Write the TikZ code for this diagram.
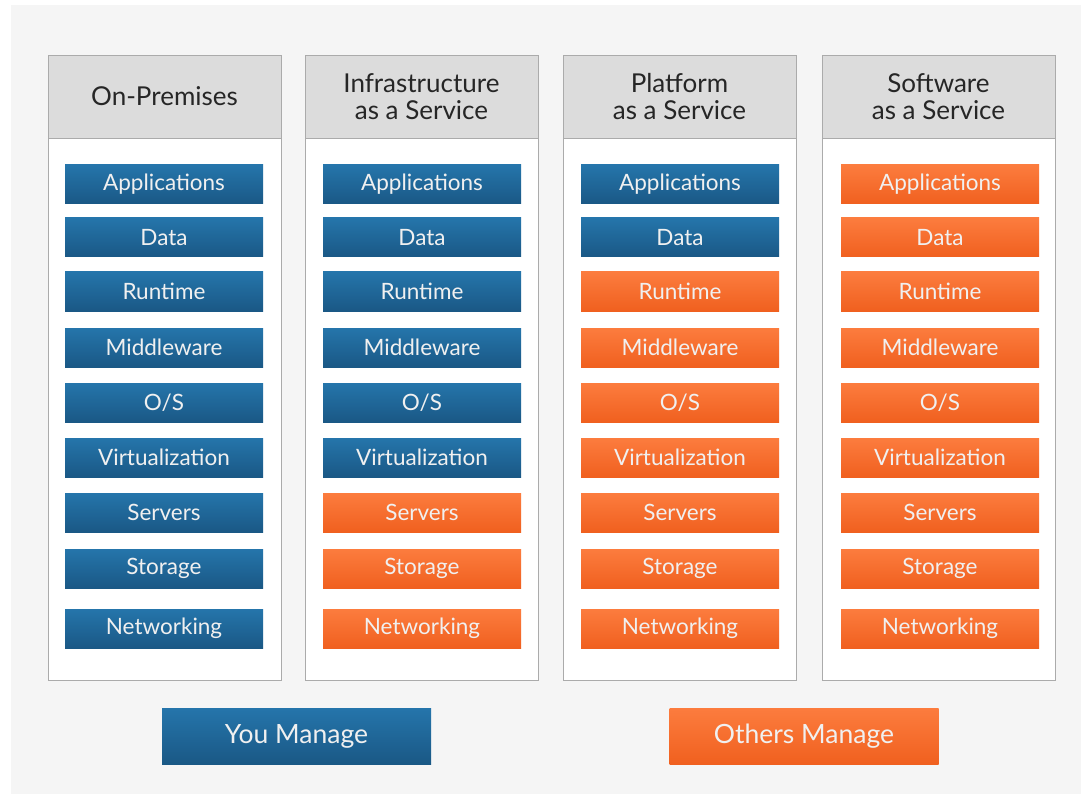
\documentclass[tikz,border=0pt]{standalone}
\usepackage{fontspec}
\setmainfont{Lato}
\usetikzlibrary{positioning}

\definecolor{pagegrey}{HTML}{F5F5F5}
\definecolor{headgrey}{HTML}{DCDCDC}
\definecolor{edgegrey}{HTML}{ABABAB}
\definecolor{youtop}{HTML}{2575AB}
\definecolor{youbot}{HTML}{1A5885}
\definecolor{othtop}{HTML}{FC7C3E}
\definecolor{othbot}{HTML}{F0601F}

\begin{document}
\begin{tikzpicture}[
                    x=1pt,
                    y=-1pt,
                    every node/.style={inner sep=0pt, outer sep=0pt},
                    stack/.style={draw=edgegrey, line width=0.8pt, fill=white,
                        minimum width=233pt, minimum height=625pt},
                    header/.style={draw=edgegrey, line width=0.8pt, fill=headgrey,
                        minimum width=233pt, minimum height=83pt,
                        align=center, text=black!85, font=\fontsize{26}{27.5}\selectfont},
                    layer/.style={minimum width=198pt, minimum height=39pt,
                        text=white!94!black, font=\fontsize{22.5}{24}\selectfont},
                    youbox/.style={layer, top color=youtop, bottom color=youbot},
                    othbox/.style={layer, top color=othtop, bottom color=othbot},
                    legend/.style={minimum width=269pt, minimum height=56pt,
                        text=white!94!black, font=\fontsize{26.5}{30}\selectfont}
                ]
                % page
                \useasboundingbox (0,0) rectangle (1081,794);
                \fill[white] (0,0) rectangle (1081,794);
                \fill[pagegrey] (11,5) rectangle (1081,794);

                % columns
                \node[stack] (onprem) at (164.5,367.5) {};
                \node[stack] (iaas) at (421.5,367.5) {};
                \node[stack] (paas) at (679.5,367.5) {};
                \node[stack] (saas) at (938.5,367.5) {};

                \node[header, below=0pt of onprem.north] (onprem-head) {On-Premises};
                \node[header, below=0pt of iaas.north] (iaas-head) {Infrastructure\\as a Service};
                \node[header, below=0pt of paas.north] (paas-head) {Platform\\as a Service};
                \node[header, below=0pt of saas.north] (saas-head) {Software\\as a Service};

                % layers
                \foreach \name/\xc/\nblue in {onprem/164/9, iaas/422/6, paas/680/2, saas/940/0}
                {
                    \foreach \layername/\yc [count=\r] in {
                        Applications/184.5, Data/237.5, Runtime/291.5,
                        Middleware/347.5, {O/S}/402.5, Virtualization/457.5,
                        Servers/512.5, Storage/568.5, Networking/628.5}
                    {
                        \ifnum\r>\nblue
                            \node[othbox] (\name-\r) at (\xc,\yc) {\layername};
                        \else
                            \node[youbox] (\name-\r) at (\xc,\yc) {\layername};
                        \fi
                    }
                }

                % legend
                \node[legend, top color=youtop, bottom color=youbot]
                    (you) at (296.5,736) {You Manage};
                \node[legend, top color=othtop, bottom color=othbot]
                    (others) at (804,736) {Others Manage};
            \end{tikzpicture}
\end{document}
